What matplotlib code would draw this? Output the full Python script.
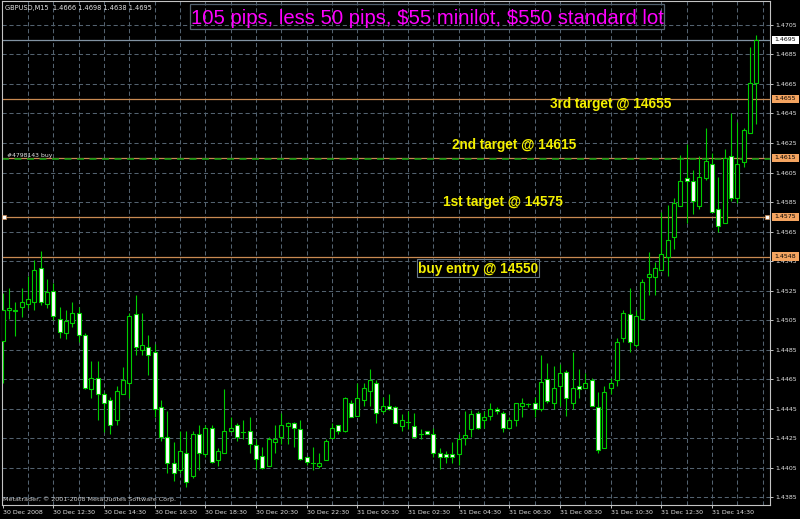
import matplotlib
matplotlib.use('Agg')
import matplotlib.pyplot as plt
from matplotlib.patches import Rectangle
from matplotlib.transforms import blended_transform_factory

plt.rcParams['font.family'] = ['Liberation Sans', 'DejaVu Sans']
plt.rcParams['lines.scale_dashes'] = False

# GBPUSD M15, 30 Dec 2008 10:30 onwards, one value per bar
opens = [1.4491, 1.4512, 1.4512, 1.4514, 1.4516, 1.4517, 1.4540, 1.4516, 1.4525, 1.4506,
         1.4496, 1.4503, 1.4510, 1.4495, 1.4458, 1.4466, 1.4455, 1.4451, 1.4437, 1.4455,
         1.4462, 1.4509, 1.4485, 1.4487, 1.4483, 1.4446, 1.4426, 1.4408, 1.4403, 1.4415,
         1.4399, 1.4428, 1.4414, 1.4432, 1.4410, 1.4415, 1.4430, 1.4434, 1.4429, 1.4430,
         1.4420, 1.4413, 1.4406, 1.4422, 1.4426, 1.4433, 1.4435, 1.4431, 1.4412, 1.4408,
         1.4406, 1.4410, 1.4425, 1.4434, 1.4430, 1.4449, 1.4440, 1.4451, 1.4457, 1.4462,
         1.4443, 1.4447, 1.4446, 1.4433, 1.4436, 1.4433, 1.4428, 1.4430, 1.4428, 1.4415,
         1.4414, 1.4414, 1.4414, 1.4425, 1.4431, 1.4442, 1.4437, 1.4440, 1.4445, 1.4442,
         1.4432, 1.4437, 1.4447, 1.4448, 1.4449, 1.4445, 1.4465, 1.4449, 1.4460, 1.4470,
         1.4449, 1.4460, 1.4459, 1.4464, 1.4446, 1.4418, 1.4459, 1.4464, 1.4493, 1.4509,
         1.4488, 1.4506, 1.4534, 1.4534, 1.4539, 1.4548, 1.4561, 1.4582, 1.4601, 1.4599,
         1.4582, 1.4601, 1.4611, 1.4580, 1.4571, 1.4616, 1.4588, 1.4612, 1.4632, 1.4666]
highs = [1.4523, 1.4527, 1.4517, 1.4527, 1.4535, 1.4546, 1.4552, 1.4533, 1.4530, 1.4514,
         1.4512, 1.4517, 1.4514, 1.4496, 1.4477, 1.4477, 1.4456, 1.4453, 1.4460, 1.4473,
         1.4510, 1.4522, 1.4510, 1.4495, 1.4489, 1.4451, 1.4443, 1.4422, 1.4430, 1.4430,
         1.4430, 1.4434, 1.4434, 1.4434, 1.4418, 1.4458, 1.4439, 1.4435, 1.4437, 1.4439,
         1.4424, 1.4419, 1.4426, 1.4434, 1.4442, 1.4436, 1.4436, 1.4437, 1.4412, 1.4419,
         1.4415, 1.4424, 1.4435, 1.4434, 1.4453, 1.4451, 1.4462, 1.4462, 1.4472, 1.4464,
         1.4453, 1.4455, 1.4447, 1.4441, 1.4443, 1.4442, 1.4431, 1.4430, 1.4432, 1.4418,
         1.4416, 1.4422, 1.4428, 1.4443, 1.4444, 1.4443, 1.4443, 1.4449, 1.4446, 1.4443,
         1.4439, 1.4449, 1.4452, 1.4449, 1.4453, 1.4481, 1.4476, 1.4474, 1.4475, 1.4471,
         1.4483, 1.4472, 1.4469, 1.4466, 1.4456, 1.4460, 1.4466, 1.4493, 1.4512, 1.4527,
         1.4512, 1.4533, 1.4551, 1.4544, 1.4578, 1.4583, 1.4588, 1.4617, 1.4624, 1.4607,
         1.4616, 1.4635, 1.4618, 1.4602, 1.4621, 1.4645, 1.4639, 1.4635, 1.4690, 1.4698]
lows = [1.4462, 1.4506, 1.4494, 1.4507, 1.4513, 1.4512, 1.4515, 1.4513, 1.4505, 1.4493,
        1.4492, 1.4500, 1.4490, 1.4458, 1.4452, 1.4437, 1.4429, 1.4428, 1.4434, 1.4455,
        1.4452, 1.4481, 1.4481, 1.4468, 1.4439, 1.4423, 1.4401, 1.4396, 1.4401, 1.4392,
        1.4398, 1.4403, 1.4412, 1.4408, 1.4406, 1.4415, 1.4429, 1.4423, 1.4424, 1.4415,
        1.4404, 1.4404, 1.4406, 1.4415, 1.4421, 1.4421, 1.4419, 1.4410, 1.4407, 1.4403,
        1.4405, 1.4410, 1.4425, 1.4428, 1.4429, 1.4439, 1.4440, 1.4447, 1.4447, 1.4435,
        1.4442, 1.4444, 1.4435, 1.4430, 1.4431, 1.4425, 1.4424, 1.4428, 1.4412, 1.4404,
        1.4408, 1.4408, 1.4407, 1.4420, 1.4426, 1.4431, 1.4432, 1.4437, 1.4441, 1.4429,
        1.4431, 1.4433, 1.4439, 1.4446, 1.4439, 1.4443, 1.4449, 1.4445, 1.4447, 1.4440,
        1.4445, 1.4452, 1.4459, 1.4447, 1.4415, 1.4418, 1.4455, 1.4460, 1.4490, 1.4483,
        1.4487, 1.4506, 1.4522, 1.4522, 1.4539, 1.4535, 1.4553, 1.4582, 1.4571, 1.4577,
        1.4580, 1.4600, 1.4578, 1.4565, 1.4571, 1.4586, 1.4584, 1.4609, 1.4632, 1.4638]
closes = [1.4512, 1.4513, 1.4511, 1.4517, 1.4519, 1.4539, 1.4517, 1.4524, 1.4508, 1.4497,
          1.4504, 1.4510, 1.4495, 1.4459, 1.4466, 1.4455, 1.4449, 1.4434, 1.4457, 1.4464,
          1.4508, 1.4487, 1.4488, 1.4481, 1.4445, 1.4426, 1.4408, 1.4401, 1.4416, 1.4395,
          1.4428, 1.4415, 1.4432, 1.4409, 1.4416, 1.4430, 1.4432, 1.4426, 1.4429, 1.4421,
          1.4411, 1.4405, 1.4424, 1.4424, 1.4434, 1.4435, 1.4432, 1.4411, 1.4409, 1.4408,
          1.4408, 1.4423, 1.4432, 1.4430, 1.4452, 1.4439, 1.4452, 1.4459, 1.4464, 1.4442,
          1.4447, 1.4445, 1.4435, 1.4437, 1.4436, 1.4426, 1.4428, 1.4428, 1.4415, 1.4412,
          1.4412, 1.4412, 1.4424, 1.4427, 1.4441, 1.4432, 1.4439, 1.4445, 1.4443, 1.4432,
          1.4437, 1.4449, 1.4449, 1.4448, 1.4445, 1.4463, 1.4450, 1.4459, 1.4469, 1.4452,
          1.4459, 1.4458, 1.4462, 1.4447, 1.4417, 1.4456, 1.4462, 1.4490, 1.4510, 1.4490,
          1.4508, 1.4531, 1.4536, 1.4540, 1.4550, 1.4559, 1.4584, 1.4599, 1.4599, 1.4586,
          1.4602, 1.4613, 1.4578, 1.4569, 1.4615, 1.4588, 1.4611, 1.4634, 1.4666, 1.4695]

time_tick_bars = [0, 8, 16, 24, 32, 40, 48, 56, 64, 72, 80, 88, 96, 104, 112]
time_tick_labels = ['30 Dec 2008', '30 Dec 12:30', '30 Dec 14:30', '30 Dec 16:30',
                    '30 Dec 18:30', '30 Dec 20:30', '30 Dec 22:30', '31 Dec 00:30',
                    '31 Dec 02:30', '31 Dec 04:30', '31 Dec 06:30', '31 Dec 08:30',
                    '31 Dec 10:30', '31 Dec 12:30', '31 Dec 14:30']
price_ticks = [1.4385 + 0.0020 * k for k in range(17)]

bid = 1.4695
order_levels = [1.4655, 1.4615, 1.4575, 1.4548]
order_open = 1.4614
targets = ['3rd target @ 14655', '2nd target @ 14615', '1st target @ 14575', 'buy entry @ 14550']
title = '105 pips, less 50 pips, $55 minilot, $550 standard lot'
header = 'GBPUSD,M15  1.4666 1.4698 1.4638 1.4695'

W, H = 800, 519
def px(x, y):
    return x / W, 1 - y / H

GREEN = '#00cc00'
GRID = '#53626f'
LEVEL = '#c98a52'
TXT = '#e4e4e4'
small = dict(family='DejaVu Sans', color=TXT)

fig = plt.figure(figsize=(8, 5.19), dpi=100, facecolor='black')
ax = fig.add_axes([2 / W, 14 / H, 768 / W, 504 / H])
ax.set_facecolor('black')
ax.set_xlim(-0.11, 121.16)
ax.set_ylim(1.437958, 1.472127)

# grid
for p in price_ticks:
    ax.axhline(p, color=GRID, lw=0.75, dashes=(3, 2), zorder=1)
for b in range(4, 121, 4):
    ax.axvline(b, color=GRID, lw=0.75, dashes=(3, 2), zorder=1)

# levels
ax.axhline(bid, color='#8193a3', lw=0.9, zorder=2)
for lv in order_levels:
    ax.axhline(lv, color=LEVEL, lw=0.9, zorder=2)
ax.axhline(order_open, color='#119911', lw=1.2, dashes=(5, 4), zorder=2)

# candles
for i in range(len(opens)):
    o, h, l, c = opens[i], highs[i], lows[i], closes[i]
    ax.plot([i, i], [l, h], color=GREEN, lw=0.8, zorder=3, solid_capstyle='butt')
    lo, hi = min(o, c), max(o, c)
    if hi - lo < 0.00004:
        ax.plot([i - 0.3, i + 0.3], [o, o], color=GREEN, lw=0.8, zorder=4)
    else:
        fc = 'black' if c > o else 'white'
        ax.add_patch(Rectangle((i - 0.3, lo), 0.6, hi - lo, facecolor=fc,
                               edgecolor=GREEN, lw=0.8, zorder=4))

# axes styling
for s in ax.spines.values():
    s.set_color('#c4c4c4')
    s.set_linewidth(0.8)
ax.yaxis.tick_right()
ax.set_yticks(price_ticks)
ax.set_yticklabels(['%.4f' % p for p in price_ticks], fontsize=4.5, **small)
ax.set_xticks(time_tick_bars)
ax.set_xticklabels(time_tick_labels, fontsize=4.5, ha='left', **small)
ax.tick_params(axis='both', colors='#c4c4c4', length=2.2, width=0.7, pad=1.5)
ax.tick_params(axis='y', labelcolor=TXT)
ax.tick_params(axis='x', labelcolor=TXT)

# price boxes on right axis
bt = blended_transform_factory(fig.transFigure, ax.transData)
for lv in order_levels:
    ax.add_patch(Rectangle((771.5 / W, lv - 0.00028), 27.5 / W, 0.00056, transform=bt,
                           facecolor='#f4a460', edgecolor='none', clip_on=False, zorder=10))
    ax.text(774.5 / W, lv, '%.4f' % lv, transform=bt, fontsize=4.5, family='DejaVu Sans',
            color='black', va='center', ha='left', clip_on=False, zorder=11)
ax.add_patch(Rectangle((771.5 / W, bid - 0.00026), 27.5 / W, 0.00052, transform=bt,
                       facecolor='white', edgecolor='none', clip_on=False, zorder=10))
ax.text(774.5 / W, bid, '%.4f' % bid, transform=bt, fontsize=4.5, family='DejaVu Sans',
        color='black', va='center', ha='left', clip_on=False, zorder=11)

# small anchor squares on the 1st target line
ax.plot([4 / W, 767 / W], [order_levels[2]] * 2, 's', transform=bt, ms=2.6,
        mfc='white', mec=LEVEL, mew=0.5, clip_on=False, zorder=6)

# annotations
fig.text(*px(5, 10), header, fontsize=4.8, va='baseline', **small)
fig.text(*px(7, 156.5), '#4798143 buy', fontsize=4.4, va='baseline', **small)
fig.text(*px(3, 501), 'Metatrader, \u00a9 2001-2008 MetaQuotes Software Corp.',
         fontsize=4.6, va='baseline', family='DejaVu Sans', color='#d0d0d0')

fig.patches.append(Rectangle(px(190, 29), 474 / W, 25 / H, transform=fig.transFigure,
                             fill=False, edgecolor=GRID, lw=0.9))
fig.text(*px(427, 24), title, fontsize=14.6, color='#ff00ff', ha='center', va='baseline',
         parse_math=False)

pos = [(550, 108), (452, 149), (443, 206), (418, 273)]
for (x, y), t in zip(pos, targets):
    fig.text(*px(x, y), t, fontsize=9.8, fontweight='bold', color='#f4f000', va='baseline')
fig.patches.append(Rectangle(px(417, 277), 122 / W, 18 / H, transform=fig.transFigure,
                             fill=False, edgecolor='#6a7a88', lw=0.8))

fig.savefig('out.png', dpi=100, facecolor='black')
